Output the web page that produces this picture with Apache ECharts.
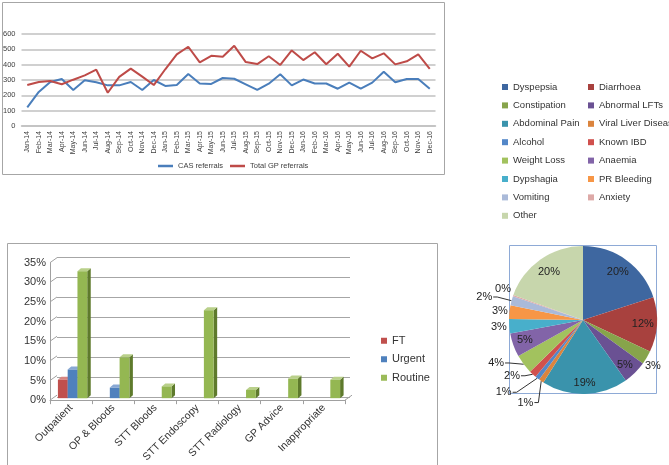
<!DOCTYPE html>
<html><head><meta charset="utf-8">
<script src="https://cdn.jsdelivr.net/npm/echarts@6/dist/echarts.min.js"></script>
<style>html,body{margin:0;padding:0;background:#fff}#c{width:669px;height:465px}</style>
</head><body><div id="c"></div>
<script>
// ---- Line chart data ----
const months = ['Jan-14','Feb-14','Mar-14','Apr-14','May-14','Jun-14','Jul-14','Aug-14','Sep-14','Oct-14','Nov-14','Dec-14',
  'Jan-15','Feb-15','Mar-15','Apr-15','May-15','Jun-15','Jul-15','Aug-15','Sep-15','Oct-15','Nov-15','Dec-15',
  'Jan-16','Feb-16','Mar-16','Apr-16','May-16','Jun-16','Jul-16','Aug-16','Sep-16','Oct-16','Nov-16','Dec-16'];
const casReferrals = [122,222,287,306,235,298,285,265,265,287,235,300,261,268,339,277,274,313,308,272,235,276,337,265,303,277,277,243,283,243,283,354,285,306,306,243];
const gpReferrals = [267,287,293,272,302,330,367,217,320,374,322,267,370,467,517,415,458,452,523,417,404,455,398,493,430,481,403,471,387,491,441,474,402,422,467,372];
const lineTicks = [0,100,200,300,400,500,600];

// ---- Bar chart data (percent) ----
const barCategories = ['Outpatient','OP & Bloods','STT Bloods','STT Endoscopy','STT Radiology','GP Advice','Inappropriate'];
const ftValues = [5.2,0,0,0,0,0,0];
const urgentValues = [7.8,3.2,0,0,0,0,0];
const routineValues = [32.8,10.9,3.5,22.9,2.6,5.5,5.2];
const barTicks = [0,5,10,15,20,25,30,35];

// ---- Pie data ----
const pieCategories = ['Dyspepsia','Diarrhoea','Constipation','Abnormal LFTs','Abdominal Pain','Viral Liver Disease','Alcohol','Known IBD','Weight Loss','Anaemia','Dypshagia','PR Bleeding','Vomiting','Anxiety','Other'];
const pieValues = [20,12,3,5.2,18.8,1.1,1.0,1.6,4.2,5.2,3.1,3.0,2.0,0.3,19.5];

// ---- styling / label layout (not data) ----
const pieColors = ['#3E67A0','#A8413E','#87A44B','#6A5193','#3A93AC','#DB843D','#5387C8','#D0504D','#A2C25E','#8264A8','#48AFCB','#F79646','#AABAD9','#DDA9A7','#C7D6AC'];
const pieInside = [true,true,false,true,true,false,false,false,false,true,false,false,false,false,true];
const pieLeader = [false,false,false,false,false,true,true,true,true,false,false,false,true,false,false];
const labelDist = [0.8,0.81,1.13,0.83,0.85,1.36,1.45,1.22,1.31,0.83,1.14,1.13,1.37,1.16,0.8];
const labelShift = [0,0,2.7,1.6,0,0.5,9.5,9,10.4,1,0,0,-2,2,0];

const F = "'Liberation Sans',Arial,sans-serif";
const chart = echarts.init(document.getElementById('c'), null, {renderer:'canvas'});

function bar3D(idx, front, side, top){
  return function(params, api){
    const c = api.value(0), v = api.value(1);
    if (!(v > 0)) return null;
    const p0 = api.coord([c, 0]), p1 = api.coord([c, v]);
    const cw = api.size([1, 0])[0];
    const bw = cw * 0.232;
    const x0 = p0[0] - 1.5*bw + idx*bw + 1.5, x1 = x0 + bw;
    const yb = p0[1] - 2, yt = p1[1];
    const dx = 3.5, dy = 3;
    return {type:'group', children:[
      {type:'polygon', shape:{points:[[x1,yb],[x1+dx,yb-dy],[x1+dx,yt-dy],[x1,yt]]}, style:{fill:side}},
      {type:'polygon', shape:{points:[[x0,yt],[x0+dx,yt-dy],[x1+dx,yt-dy],[x1,yt]]}, style:{fill:top}},
      {type:'rect', shape:{x:x0,y:yt,width:bw,height:yb-yt}, style:{fill:front}}
    ]};
  };
}
function decor(params, api){
  const v = api.value(1);
  const p = api.coord([0, v]);
  const cs = params.coordSys;
  const x = cs.x;
  const children = [{type:'line', shape:{x1:x, y1:p[1], x2:x+7, y2:p[1]-5}, style:{stroke:'#a0a0a0', lineWidth:1}}];
  if (v === 0) {
    children.push({type:'line', shape:{x1:x+cs.width, y1:p[1], x2:x+cs.width+7, y2:p[1]-5}, style:{stroke:'#a0a0a0', lineWidth:1}});
  }
  return {type:'group', children};
}

const pieCenter = [583, 320], pieR = 74;
const pieTotal = pieValues.reduce((a,b)=>a+b,0);
const pieMid = []; { let acc = 0; pieValues.forEach(v=>{ pieMid.push((acc + v/2)/pieTotal*2*Math.PI); acc += v; }); }

const option = {
  animation:false,
  textStyle:{fontFamily:F},
  graphic:[
    {type:'rect', shape:{x:2.5,y:2.5,width:442,height:172}, style:{fill:'none', stroke:'#a6a6a6', lineWidth:1}},
    {type:'rect', shape:{x:7.5,y:243.5,width:430,height:230}, style:{fill:'none', stroke:'#a6a6a6', lineWidth:1}},
    {type:'rect', shape:{x:509.5,y:245.5,width:147,height:148}, style:{fill:'none', stroke:'#8EAAD6', lineWidth:1}}
  ],
  grid:[
    {left:21, top:34, width:414.5, height:92},
    {left:50, top:262.7, width:295, height:139.3},
    {left:57, top:257.7, width:293, height:139.3}
  ],
  xAxis:[
    {type:'category', gridIndex:0, data:months, boundaryGap:true,
     axisLine:{lineStyle:{color:'#c0c0c0', width:1.5}}, axisTick:{show:false},
     axisLabel:{rotate:90, fontSize:7, color:'#404040', margin:5, interval:0}},
    {type:'category', gridIndex:1, data:barCategories, boundaryGap:true,
     axisLine:{lineStyle:{color:'#a0a0a0'}}, axisTick:{show:true, length:4, lineStyle:{color:'#a0a0a0'}},
     axisLabel:{rotate:45, fontSize:10.5, color:'#333', margin:6, interval:0}},
    {type:'category', gridIndex:2, data:barCategories, show:false}
  ],
  yAxis:[
    {type:'value', gridIndex:0, min:0, max:600, interval:100,
     axisLine:{show:false}, axisTick:{show:false},
     splitLine:{lineStyle:{color:'#c0c0c0', width:1.5}},
     axisLabel:{fontSize:7.5, color:'#404040', margin:6}},
    {type:'value', gridIndex:1, min:0, max:35, interval:5,
     axisLine:{show:true, lineStyle:{color:'#a0a0a0'}}, axisTick:{show:false},
     splitLine:{show:false},
     axisLabel:{fontSize:11, color:'#333', formatter:'{value}%', margin:4}},
    {type:'value', gridIndex:2, min:0, max:35, interval:5,
     axisLine:{show:false}, axisTick:{show:false}, axisLabel:{show:false},
     splitLine:{lineStyle:{color:'#a6a6a6', width:1}}}
  ],
  legend:[
    {data:['CAS referrals','Total GP referrals'], left:153, top:157, orient:'horizontal', icon:'rect',
     itemWidth:15, itemHeight:2.5, itemGap:7, textStyle:{fontSize:7.5, color:'#404040', fontFamily:F}},
    {data:['FT','Urgent','Routine'], left:376, top:329, orient:'vertical', icon:'rect',
     itemWidth:6, itemHeight:6, itemGap:5, textStyle:{fontSize:11, color:'#333', lineHeight:13.5, fontFamily:F}},
    {data:['Dyspepsia','Constipation','Abdominal Pain','Alcohol','Weight Loss','Dypshagia','Vomiting','Other'],
     left:497, top:75, orient:'vertical', icon:'rect', itemWidth:6, itemHeight:6, itemGap:4.4, itemTextGap:4,
     textStyle:{fontSize:9.5, color:'#333', lineHeight:14, fontFamily:F}},
    {data:['Diarrhoea','Abnormal LFTs','Viral Liver Disease','Known IBD','Anaemia','PR Bleeding','Anxiety'],
     left:583, top:75, orient:'vertical', icon:'rect', itemWidth:6, itemHeight:6, itemGap:4.4, itemTextGap:4,
     textStyle:{fontSize:9.5, color:'#333', lineHeight:14, fontFamily:F}}
  ],
  series:[
    {name:'CAS referrals', type:'line', xAxisIndex:0, yAxisIndex:0, data:casReferrals, symbol:'none',
     lineStyle:{color:'#4A7EBB', width:2}, itemStyle:{color:'#4A7EBB'}},
    {name:'Total GP referrals', type:'line', xAxisIndex:0, yAxisIndex:0, data:gpReferrals, symbol:'none',
     lineStyle:{color:'#BE4B48', width:2}, itemStyle:{color:'#BE4B48'}},
    {name:'decor', type:'custom', xAxisIndex:1, yAxisIndex:1, data:barTicks.map(v=>[0,v]), renderItem:decor, silent:true, z:1},
    {name:'FT', type:'custom', xAxisIndex:1, yAxisIndex:1, itemStyle:{color:'#C0504D'},
     data:ftValues.map((v,i)=>[i,v]), encode:{x:0,y:1}, renderItem:bar3D(0,'#C0504D','#8C3836','#D88581'), z:3},
    {name:'Urgent', type:'custom', xAxisIndex:1, yAxisIndex:1, itemStyle:{color:'#4F81BD'},
     data:urgentValues.map((v,i)=>[i,v]), encode:{x:0,y:1}, renderItem:bar3D(1,'#4F81BD','#35608F','#88A8D4'), z:3},
    {name:'Routine', type:'custom', xAxisIndex:1, yAxisIndex:1, itemStyle:{color:'#9BBB59'},
     data:routineValues.map((v,i)=>[i,v]), encode:{x:0,y:1}, renderItem:bar3D(2,'#94B752','#5E7A2C','#B9D08A'), z:3},
    {name:'Referral reasons', type:'pie', center:pieCenter, radius:pieR, startAngle:90, clockwise:true,
     avoidLabelOverlap:false,
     data:pieCategories.map((n,i)=>({name:n, value:pieValues[i], itemStyle:{color:pieColors[i]},
       label:{position: pieInside[i] ? 'inside' : 'outside'},
       labelLine:{show: pieLeader[i]}})),
     label:{show:true, fontSize:11, color:'#222', fontFamily:F,
       formatter:p=>Math.round(p.value/pieTotal*100)+'%'},
     labelLine:{length:6, length2:8, lineStyle:{color:'#333', width:1}},
     labelLayout:function(p){
       const i = p.dataIndex;
       const a = pieMid[i] + labelShift[i]*Math.PI/180;
       const d = labelDist[i]*pieR;
       const lx = pieCenter[0] + d*Math.sin(a), ly = pieCenter[1] - d*Math.cos(a);
       const res = {x:lx, y:ly, align:'center', verticalAlign:'middle'};
       if (pieLeader[i]) {
         const m = pieMid[i];
         const ex = pieCenter[0] + pieR*Math.sin(m), ey = pieCenter[1] - pieR*Math.cos(m);
         const hw = p.labelRect.width/2;
         res.labelLinePoints = [[ex,ey],[lx+hw+5,ly],[lx+hw+1,ly]];
       }
       return res;
     },
     itemStyle:{borderWidth:0}}
  ]
};
chart.setOption(option);
</script></body></html>
